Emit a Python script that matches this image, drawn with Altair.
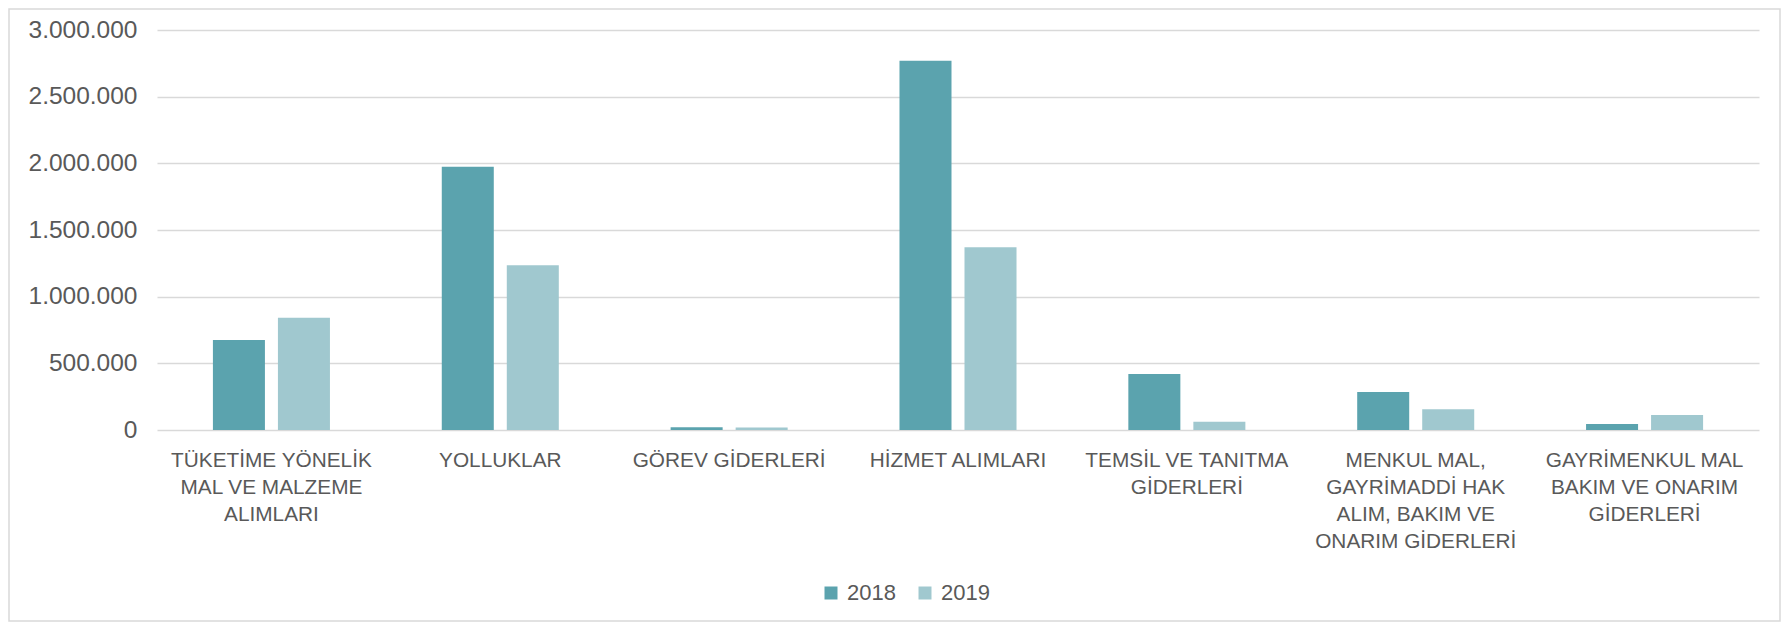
import altair as alt
import pandas as pd

categories = [
    "TÜKETİME YÖNELİK|MAL VE MALZEME|ALIMLARI",
    "YOLLUKLAR",
    "GÖREV GİDERLERİ",
    "HİZMET ALIMLARI",
    "TEMSİL VE TANITMA|GİDERLERİ",
    "MENKUL MAL,|GAYRİMADDİ HAK|ALIM, BAKIM VE|ONARIM GİDERLERİ",
    "GAYRİMENKUL MAL|BAKIM VE ONARIM|GİDERLERİ",
]
years = ["2018", "2019"]
values_2018 = [675000, 1974000, 20000, 2770000, 420000, 285000, 45000]
values_2019 = [841000, 1235000, 18000, 1370000, 62000, 155000, 112000]
colors = ["#5BA3AE", "#A0C8CF"]

rows = []
for c, a, b in zip(categories, values_2018, values_2019):
    rows.append({"cat": c, "year": years[0], "value": a})
    rows.append({"cat": c, "year": years[1], "value": b})
df = pd.DataFrame(rows)

FONT = "Liberation Sans"
W, H = 1602, 400

bars = alt.Chart(df).mark_bar().encode(
    x=alt.X("cat:N", sort=categories, title=None,
            scale=alt.Scale(paddingInner=0, paddingOuter=0),
            axis=alt.Axis(labelExpr="split(datum.label, '|')", labelAngle=0,
                          labelFontSize=20.8, labelFont=FONT, labelColor="#595959",
                          labelLineHeight=27, labelPadding=20, labelLimit=400,
                          ticks=False, domain=False, grid=False)),
    xOffset=alt.XOffset("year:N", sort=years,
                        scale=alt.Scale(paddingInner=0.2, paddingOuter=0.86)),
    y=alt.Y("value:Q", title=None,
            scale=alt.Scale(domain=[0, 3000000], nice=False),
            axis=alt.Axis(values=[0, 500000, 1000000, 1500000, 2000000, 2500000, 3000000],
                          labelExpr="replace(format(datum.value, ','), regexp(',', 'g'), '.')",
                          labelFontSize=24.5, labelFont=FONT, labelColor="#595959",
                          labelPadding=20, ticks=False, domain=False,
                          grid=True, gridColor="#D9D9D9", gridWidth=1.4)),
    color=alt.Color("year:N", sort=years,
                    scale=alt.Scale(domain=years, range=colors),
                    legend=alt.Legend(title=None, orient="none", direction="horizontal",
                                      legendX=663, legendY=552,
                                      symbolType="square", symbolSize=169,
                                      symbolStrokeWidth=0, labelFontSize=22,
                                      labelFont=FONT, labelColor="#595959",
                                      labelOffset=5, columnPadding=18)),
)

frame = alt.Chart(alt.InlineData(values=[{"a": 1}])).mark_rect(
    fill=None, stroke="#D9D9D9", strokeWidth=1.5
).encode(
    x=alt.value(-148), x2=alt.value(W + 21), y=alt.value(-21), y2=alt.value(H + 191)
)

chart = alt.layer(bars, frame).properties(
    width=W, height=H,
    autosize=alt.AutoSizeParams(type="none"),
    padding={"left": 149, "top": 22, "right": 22, "bottom": 192},
    background="white",
).configure_view(stroke=None)

chart.save("out.html", embed_options={"renderer": "svg", "actions": False})
